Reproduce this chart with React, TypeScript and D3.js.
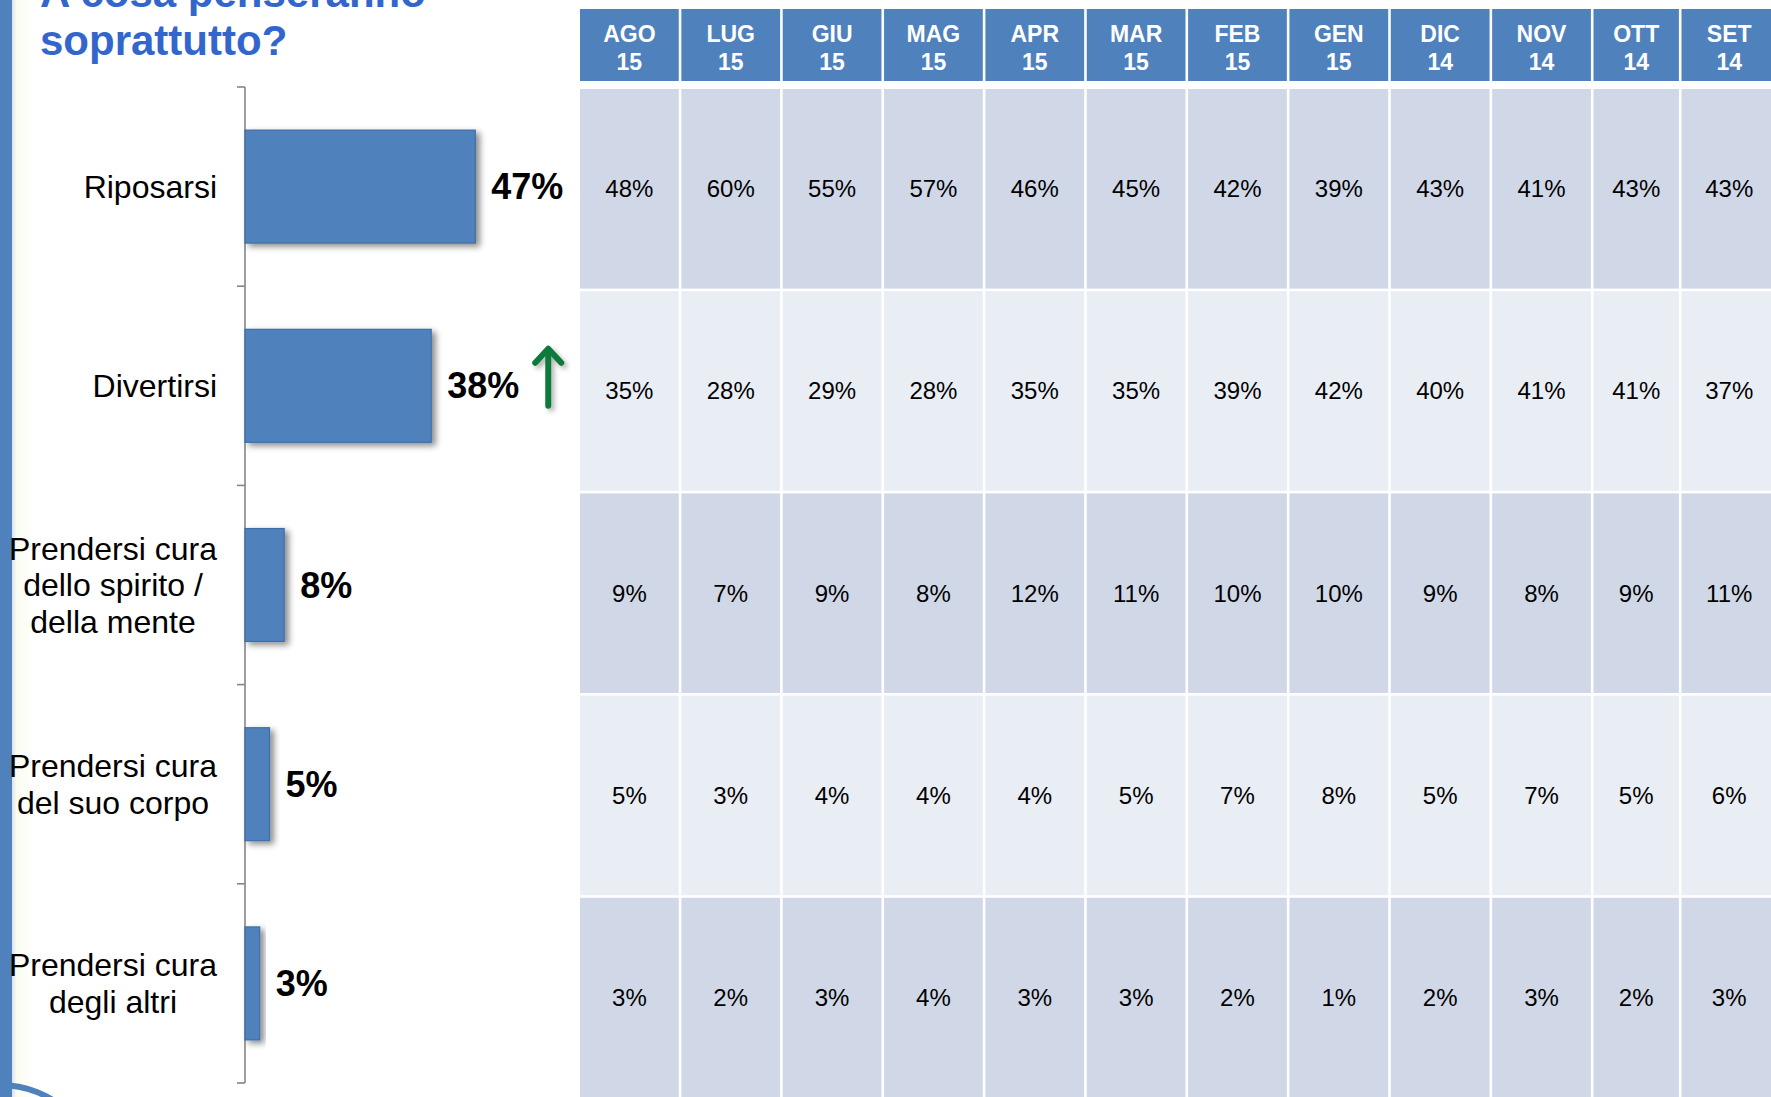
import React from "react";
import * as d3 from "d3";

// ---------- DATA ----------
const titleLines = ["A cosa penseranno", "soprattutto?"];
const categories = [
  "Riposarsi",
  "Divertirsi",
  "Prendersi cura dello spirito / della mente",
  "Prendersi cura del suo corpo",
  "Prendersi cura degli altri",
];
const categoryLines = [
  ["Riposarsi"],
  ["Divertirsi"],
  ["Prendersi cura", "dello spirito /", "della mente"],
  ["Prendersi cura", "del suo corpo"],
  ["Prendersi cura", "degli altri"],
];
const currentValues = [47, 38, 8, 5, 3];
const trendUp = [false, true, false, false, false];

const months = ["AGO", "LUG", "GIU", "MAG", "APR", "MAR", "FEB", "GEN", "DIC", "NOV", "OTT", "SET"];
const years = ["15", "15", "15", "15", "15", "15", "15", "15", "14", "14", "14", "14"];

const riposarsiHistory = [48, 60, 55, 57, 46, 45, 42, 39, 43, 41, 43, 43];
const divertirsiHistory = [35, 28, 29, 28, 35, 35, 39, 42, 40, 41, 41, 37];
const spiritoHistory = [9, 7, 9, 8, 12, 11, 10, 10, 9, 8, 9, 11];
const corpoHistory = [5, 3, 4, 4, 4, 5, 7, 8, 5, 7, 5, 6];
const altriHistory = [3, 2, 3, 4, 3, 3, 2, 1, 2, 3, 2, 3];
const historyRows = [riposarsiHistory, divertirsiHistory, spiritoHistory, corpoHistory, altriHistory];

// ---------- LAYOUT ----------
const W = 1771;
const H = 1097;
const FONT = "'Liberation Sans', Arial, Helvetica, sans-serif";
const BLUE = "#4F81BD";

let _ctx: CanvasRenderingContext2D | null = null;
function measure(text: string, font: string): number {
  if (!_ctx) _ctx = document.createElement("canvas").getContext("2d");
  if (!_ctx) return text.length * 15;
  _ctx.font = font;
  return _ctx.measureText(text).width;
}

export default function App() {
  // bar chart scales
  const y = d3.scaleBand<string>().domain(categories).range([87, 1083]).paddingInner(0.433).paddingOuter(0.2165);
  const x = d3.scaleLinear().domain([0, 50]).range([245, 490]);
  const step = y.step();
  const tickYs = d3.range(categories.length + 1).map((i) => 87 + i * step);

  // table scales
  const colStep = 101.35;
  const colX = d3.scaleLinear().domain([0, 1]).range([580, 580 + colStep]);
  const ottW = 88;
  const colStart = (i: number) => (i <= 10 ? colX(i) : colX(10) + ottW);
  const colWidth = (i: number) => (i === 10 ? ottW : i === 11 ? 98 : colStep);
  const rowY = d3.scaleBand<string>().domain(categories).range([89, 89 + 5 * 202.2]).padding(0);
  const gap = 2.6;

  const labelFont = `32px ${FONT}`;
  const valueFont = `bold 36px ${FONT}`;
  const lineH = 36.7;

  return (
    <div style={{ position: "fixed", left: 0, top: 0, width: W, height: H, background: "#fff" }}>
      <svg width={W} height={H} viewBox={`0 0 ${W} ${H}`} style={{ display: "block" }}>
        <defs>
          <filter id="shadow" x="-30%" y="-30%" width="170%" height="170%">
            <feDropShadow dx="4" dy="3" stdDeviation="3" floodColor="#000" floodOpacity="0.45" />
          </filter>
          <filter id="ashadow" x="-100%" y="-30%" width="300%" height="170%">
            <feDropShadow dx="3" dy="3" stdDeviation="2.5" floodColor="#000" floodOpacity="0.3" />
          </filter>
          <linearGradient id="edge" x1="0" x2="1" y1="0" y2="0">
            <stop offset="0" stopColor="#D6E2F1" />
            <stop offset="0.2" stopColor="#FBFCF0" />
            <stop offset="1" stopColor="#FFFFFF" />
          </linearGradient>
        </defs>

        <rect x={0} y={0} width={W} height={H} fill="#fff" />
        {/* left decorative stripe */}
        <rect x={12} y={0} width={22} height={H} fill="url(#edge)" />
        <rect x={0} y={0} width={12} height={H} fill={BLUE} />
        <circle cx={0} cy={1185} r={100} fill="none" stroke={BLUE} strokeWidth={6} />

        {/* title */}
        {titleLines.map((t, i) => (
          <text key={t} x={40} y={7 + i * 48} fontFamily={FONT} fontWeight="bold" fontSize={42} fill="#3366CC">
            {t}
          </text>
        ))}

        {/* table header */}
        {months.map((m, i) => {
          const x0 = colStart(i);
          const w = colWidth(i);
          const cx = x0 + (w - gap) / 2;
          return (
            <g key={"h" + i}>
              <rect x={x0} y={9} width={w - gap} height={72} fill={BLUE} />
              <text x={cx} y={42} textAnchor="middle" fontFamily={FONT} fontWeight="bold" fontSize={23} fill="#fff">
                {m}
              </text>
              <text x={cx} y={70} textAnchor="middle" fontFamily={FONT} fontWeight="bold" fontSize={23} fill="#fff">
                {years[i]}
              </text>
            </g>
          );
        })}

        {/* table body */}
        {categories.map((c, r) => {
          const y0 = rowY(c) as number;
          const h = rowY.step() - gap;
          return (
            <g key={"r" + r}>
              {historyRows[r].map((v, i) => {
                const x0 = colStart(i);
                const w = colWidth(i);
                return (
                  <g key={i}>
                    <rect x={x0} y={y0} width={w - gap} height={h} fill={r % 2 === 0 ? "#D0D8E8" : "#E9EDF4"} />
                    <text
                      x={x0 + (w - gap) / 2}
                      y={y0 + h / 2}
                      dy="0.35em"
                      textAnchor="middle"
                      fontFamily={FONT}
                      fontSize={24}
                      fill="#000"
                    >
                      {v}%
                    </text>
                  </g>
                );
              })}
            </g>
          );
        })}

        {/* axis */}
        <line x1={245} x2={245} y1={87} y2={1083} stroke="#868686" strokeWidth={1.6} />
        {tickYs.map((ty, i) => (
          <line key={"t" + i} x1={237} x2={245} y1={ty} y2={ty} stroke="#868686" strokeWidth={1.6} />
        ))}

        {/* bars */}
        {categories.map((c, i) => {
          const by = y(c) as number;
          return (
            <rect
              key={"b" + i}
              x={x(0)}
              y={by}
              width={x(currentValues[i]) - x(0)}
              height={y.bandwidth()}
              fill={BLUE}
              stroke="#3E6EA8"
              strokeWidth={1.2}
              filter="url(#shadow)"
            />
          );
        })}

        {/* category labels */}
        {categories.map((c, i) => {
          const lines = categoryLines[i];
          const bw = Math.max(...lines.map((l) => measure(l, labelFont)));
          const cx = 217 - bw / 2;
          const cy = (y(c) as number) + y.bandwidth() / 2;
          const top = cy - ((lines.length - 1) * lineH) / 2;
          return (
            <text key={"l" + i} fontFamily={FONT} fontSize={32} fill="#000" textAnchor="middle">
              {lines.map((l, k) => (
                <tspan key={k} x={cx} y={top + k * lineH} dy="0.35em">
                  {l}
                </tspan>
              ))}
            </text>
          );
        })}

        {/* value labels + trend arrows */}
        {categories.map((c, i) => {
          const cy = (y(c) as number) + y.bandwidth() / 2;
          const lx = x(currentValues[i]) + 16;
          const label = `${currentValues[i]}%`;
          const lw = measure(label, valueFont);
          const ax = lx + lw + 29;
          return (
            <g key={"v" + i}>
              <text x={lx} y={cy} dy="0.35em" fontFamily={FONT} fontWeight="bold" fontSize={36} fill="#000">
                {label}
              </text>
              {trendUp[i] && (
                <g filter="url(#ashadow)" stroke="#0B7A3B" strokeWidth={6} fill="none" strokeLinecap="round" strokeLinejoin="round">
                  <line x1={ax} x2={ax} y1={cy + 20} y2={cy - 36} />
                  <polyline points={`${ax - 13},${cy - 23} ${ax},${cy - 37} ${ax + 13},${cy - 23}`} />
                </g>
              )}
            </g>
          );
        })}
      </svg>
    </div>
  );
}
